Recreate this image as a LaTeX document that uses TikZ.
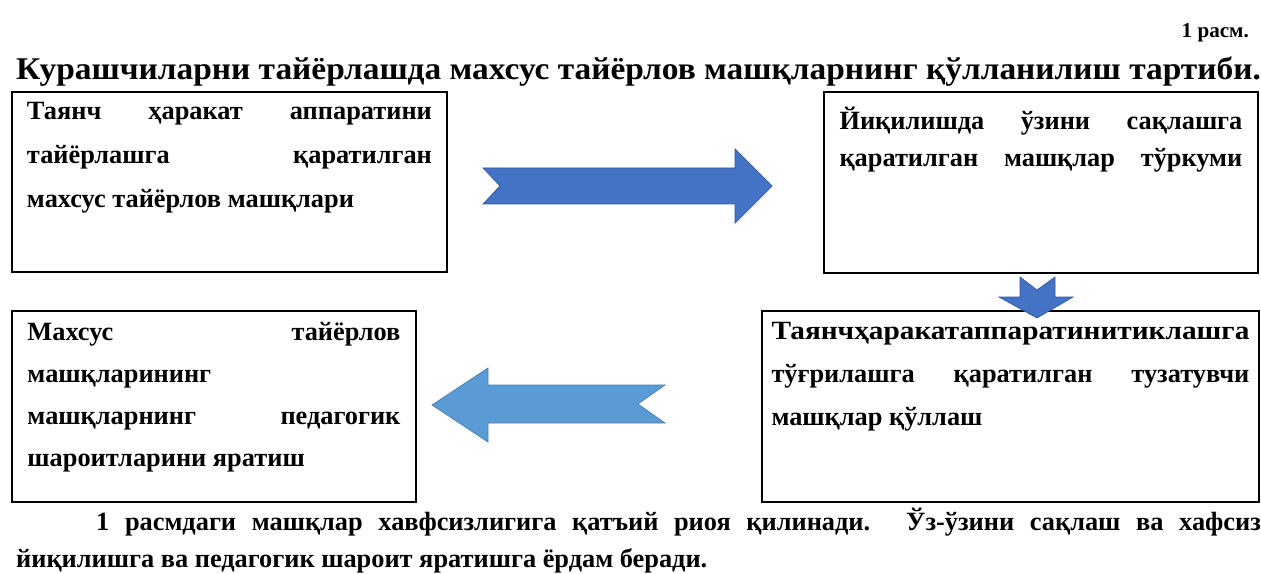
\documentclass[tikz,border=0pt]{standalone}
\usepackage{fontspec}
\setmainfont{Liberation Serif}
\usepackage{graphicx}
\usetikzlibrary{positioning}

\definecolor{arrdark}{HTML}{4472C4}
\definecolor{arrlight}{HTML}{5B9BD5}
\definecolor{arredge}{HTML}{41719C}

\begin{document}
\begin{tikzpicture}[
    x=0.02cm, y=-0.02cm,
    box/.style={draw, line width=1.4pt, anchor=north west, outer sep=0pt},
    boxfont/.style={font=\fontsize{15}{#1}\selectfont\bfseries},
    blockarrow/.style={fill=#1, draw=#1!80!black, line width=0.4pt}]
    \useasboundingbox (0,0) rectangle (1261,574);

    % Titolo e numero della figura
    \node[anchor=base east, font=\fontsize{12}{14}\selectfont\bfseries] (fignum) at (1255,38) {1 расм.};
    \node[anchor=base west, font=\fontsize{18}{20}\selectfont\bfseries] (title) at (10,80)
        {\resizebox{24.9cm}{\height}{Курашчиларни тайёрлашда махсус тайёрлов машқларнинг қўлланилиш тартиби.}};

    % Riquadri superiori
    \node[box, boxfont=25, inner xsep=0.3cm, inner ysep=0.2cm] (tayanch) at (12,92)
        {\parbox[c][3.2cm][t]{8.1cm}{Таянч\hfill ҳаракат\hfill аппаратини\\
         тайёрлашга\hfill қаратилган\\
         махсус тайёрлов машқлари}};
    \node[box, boxfont=21, inner xsep=0.31cm, inner ysep=0.3cm] (yiqilish) at (824,92)
        {\parbox[c][3.02cm][t]{8.06cm}{Йиқилишда\hfill ўзини\hfill сақлашга\\
         қаратилган\hfill машқлар\hfill тўркуми}};

    % Riquadri inferiori
    \node[box, boxfont=24.5, inner xsep=0.19cm, inner ysep=0.22cm] (tuzatuvchi) at (762,311)
        {\parbox[c][3.38cm][t]{9.56cm}{\resizebox{\linewidth}{\height}{Таянчҳаракатаппаратинитиклашга}\\
         тўғрилашга\hfill қаратилган\hfill тузатувчи\\
         машқлар қўллаш}};
    \node[box, boxfont=24, inner xsep=0.31cm, inner ysep=0.22cm] (maxsus) at (12,311)
        {\parbox[c][3.38cm][t]{7.46cm}{Махсус\hfill тайёрлов\\
         машқларининг\\
         машқларнинг\hfill педагогик\\
         шароитларини яратиш}};

    % Frecce a blocco
    \filldraw[blockarrow=arrdark] (483,168) -- (735,168) -- (735,149) -- (772,186)
        -- (735,223) -- (735,204) -- (483,204) -- (500,186) -- cycle;
    \filldraw[blockarrow=arrdark] (1020,277) -- (1037,290) -- (1055,277) -- (1055,297)
        -- (1073,297) -- (1037,318) -- (999,297) -- (1020,297) -- cycle;
    \filldraw[blockarrow=arrlight] (665,385) -- (488,385) -- (488,368) -- (432,405)
        -- (488,442) -- (488,423) -- (665,423) -- (638,404) -- cycle;

    % Testo sotto la figura
    \node[anchor=base west, font=\fontsize{15}{18}\selectfont\bfseries] (note1) at (90,530)
        {\makebox[23.3cm][s]{1 расмдаги машқлар хавфсизлигига қатъий риоя қилинади. Ўз-ўзини сақлаш ва хафсиз}};
    \node[anchor=base west, font=\fontsize{15}{18}\selectfont\bfseries] (note2) at (10,567)
        {йиқилишга ва педагогик шароит яратишга ёрдам беради.};
\end{tikzpicture}
\end{document}
